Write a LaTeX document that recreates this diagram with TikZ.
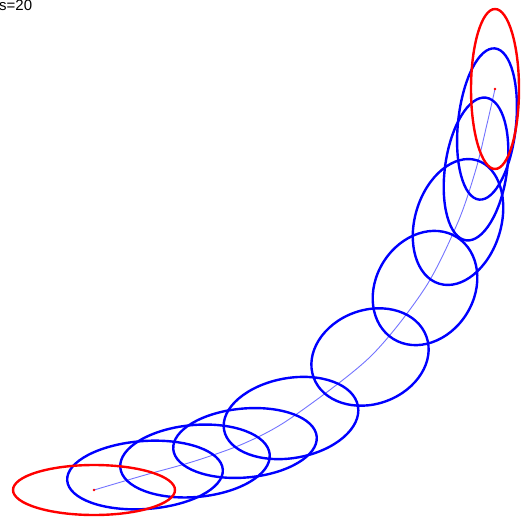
\documentclass[tikz,border=0pt]{standalone}
\usepackage{fontspec}
\setmainfont{Liberation Sans}
\usetikzlibrary{calc}

\tikzset{
  covblue/.style={draw=blue, line width=2.4pt},
  covred/.style={draw=red, line width=2.4pt},
  meanline/.style={draw=blue!55, line width=0.9pt},
}

\begin{document}
\begin{tikzpicture}[x=1pt, y=1pt]
\useasboundingbox (0,0) rectangle (526,520);

% --- step label ---
\node[anchor=base west, inner sep=0pt, font=\fontsize{15}{15}\selectfont] (slabel) at (-1,509) {s=20};

% --- mean path ---
\draw[meanline] plot[smooth, tension=0.5] coordinates {
  (94,30) (145,45) (195,59) (245,77) (291,102) (370,163)
  (425,232) (458,298) (476,351) (487,396) (495,431)};

% --- intermediate ellipses ---
\foreach \cx/\cy/\ra/\rb/\ang in {
  145/45/78/34/4, 195/59/75/36/5, 245/77/72/34.5/5, 291/102/68/40/10,
  370/163/60/47/20, 425/232/60/49/58, 458/298/64.5/43/73,
  476/351/72/31/82, 487/396/76/29/84} {
  \draw[covblue, shift={(\cx,\cy)}, rotate=\ang] (0,0) ellipse [x radius=\ra pt, y radius=\rb pt];
}

% --- start and end ---
\draw[covred] (94,30) ellipse [x radius=81pt, y radius=25pt];
\draw[covred] (495,431) ellipse [x radius=24pt, y radius=80pt];
\fill[red] (94,30) circle (1.4pt);
\fill[red] (495,431) circle (1.4pt);

\end{tikzpicture}
\end{document}
